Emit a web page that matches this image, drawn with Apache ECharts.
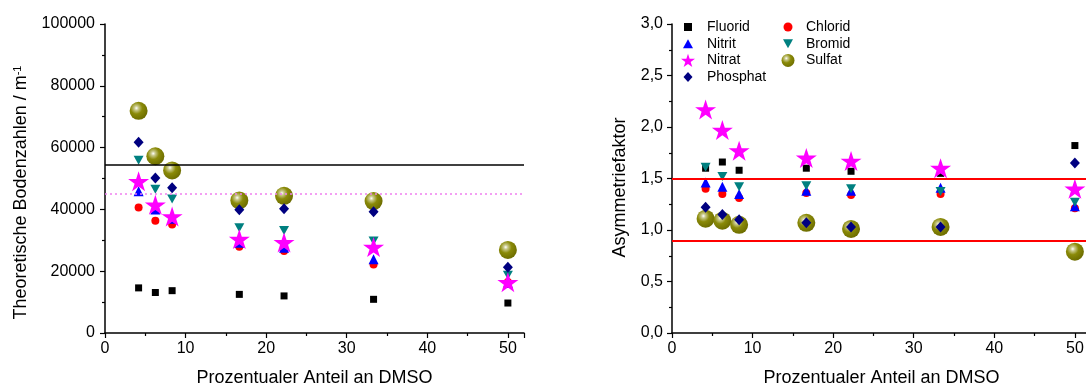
<!DOCTYPE html>
<html>
<head>
<meta charset="utf-8">
<script src="https://cdn.jsdelivr.net/npm/echarts@6/dist/echarts.min.js"></script>
<style>
html,body{margin:0;padding:0;background:#fff;}
#chart{width:1086px;height:387px;}
</style>
</head>
<body>
<div id="chart"></div>
<script>
// x values: percentage DMSO
var dmso = [4.17, 6.25, 8.33, 16.67, 22.22, 33.33, 50];

// Left chart: theoretical plate numbers / m^-1
var plateFluorid  = [14600, 13100, 13700, 12500, 12000, 10900, 9700];
var plateChlorid  = [40600, 36300, 35100, 27900, 26500, 22200, 16500];
var plateNitrit   = [45900, 40000, 37000, 29200, 27600, 23900, 16200];
var plateBromid   = [55900, 46500, 43400, 34100, 33200, 29800, 18700];
var plateNitrat   = [49100, 41500, 37700, 30400, 29300, 27800, 16400];
var plateSulfat   = [71900, 57200, 52600, 42900, 44400, 42700, 26900];
var platePhosphat = [61700, 50200, 47000, 39900, 40200, 39200, 21300];
var plateRefSolid  = [54600];
var plateRefDotted = [45000];

// Right chart: asymmetry factor
var asymFluorid  = [1.60, 1.66, 1.58, 1.60, 1.57, 1.55, 1.82];
var asymChlorid  = [1.40, 1.35, 1.31, 1.36, 1.34, 1.35, 1.21];
var asymNitrit   = [1.46, 1.42, 1.35, 1.38, 1.38, 1.41, 1.23];
var asymBromid   = [1.61, 1.52, 1.42, 1.43, 1.40, 1.375, 1.27];
var asymNitrat   = [2.17, 1.97, 1.77, 1.70, 1.67, 1.60, 1.40];
var asymSulfat   = [1.11, 1.09, 1.05, 1.07, 1.01, 1.03, 0.79];
var asymPhosphat = [1.22, 1.15, 1.10, 1.07, 1.03, 1.03, 1.65];
var asymRefLines = [1.5, 0.9];

var seriesNames = ['Fluorid', 'Chlorid', 'Nitrit', 'Bromid', 'Nitrat', 'Sulfat', 'Phosphat'];
var legendCol1 = ['Fluorid', 'Nitrit', 'Nitrat', 'Phosphat'];
var legendCol2 = ['Chlorid', 'Bromid', 'Sulfat'];

var STAR = 'path://M50,0 L61.23,34.55 L97.55,34.55 L68.17,55.9 L79.39,90.45 L50,69.1 L20.61,90.45 L31.83,55.9 L2.45,34.55 L38.77,34.55 Z';
var DOWN = 'path://M0,0 L10,0 L5,9 Z';

// legend icons (with invisible 14x14 frame so the drawn shapes keep their relative sizes)
var legendIcons = {
  Fluorid:  'path://M0,0 M14,14 M3,3 L11,3 L11,11 L3,11 Z',
  Chlorid:  'path://M0,0 M14,14 M2.5,7 A4.5,4.5 0 1,0 11.5,7 A4.5,4.5 0 1,0 2.5,7 Z',
  Nitrit:   'path://M0,0 M14,14 M7,2.5 L12,11.5 L2,11.5 Z',
  Bromid:   'path://M0,0 M14,14 M2,2.5 L12,2.5 L7,11.5 Z',
  Nitrat:   STAR,
  Sulfat:   'path://M0,0 M14,14 M0.5,7 A6.5,6.5 0 1,0 13.5,7 A6.5,6.5 0 1,0 0.5,7 Z',
  Phosphat: 'path://M0,0 M14,14 M7,2 L11.5,7 L7,12 L2.5,7 Z'
};

var sphere = {
  type: 'radial', x: 0.38, y: 0.35, r: 0.65,
  colorStops: [
    {offset: 0, color: '#ffffff'},
    {offset: 0.18, color: '#c9c98a'},
    {offset: 0.5, color: '#8a8a08'},
    {offset: 1, color: '#6e6e00'}
  ]
};

var styles = {
  Fluorid:  {symbol: 'rect', size: 7, color: '#000000'},
  Chlorid:  {symbol: 'circle', size: 8, color: '#ff0000'},
  Nitrit:   {symbol: 'triangle', size: 10, color: '#0000ff'},
  Bromid:   {symbol: DOWN, size: [10, 9], color: '#008080'},
  Nitrat:   {symbol: STAR, size: [21, 20], color: '#ff00ff'},
  Sulfat:   {symbol: 'circle', size: 18, color: sphere},
  Phosphat: {symbol: 'diamond', size: [10, 11], color: '#000080'}
};

var leftData = {Fluorid: plateFluorid, Chlorid: plateChlorid, Nitrit: plateNitrit, Bromid: plateBromid, Nitrat: plateNitrat, Sulfat: plateSulfat, Phosphat: platePhosphat};
var rightData = {Fluorid: asymFluorid, Chlorid: asymChlorid, Nitrit: asymNitrit, Bromid: asymBromid, Nitrat: asymNitrat, Sulfat: asymSulfat, Phosphat: asymPhosphat};

var FONT = '"Liberation Sans", Arial, sans-serif';

function pairs(vals) { return dmso.map(function (x, i) { return [x, vals[i]]; }); }

var series = [];
seriesNames.forEach(function (n, k) {
  var st = styles[n];
  var s1 = {
    name: n, type: 'scatter', xAxisIndex: 0, yAxisIndex: 0,
    symbol: st.symbol, symbolSize: st.size,
    itemStyle: {color: st.color, opacity: 1},
    data: pairs(leftData[n]), z: 3 + k * 0.01, silent: true
  };
  var s2 = {
    name: n, type: 'scatter', xAxisIndex: 1, yAxisIndex: 1,
    symbol: st.symbol, symbolSize: st.size,
    itemStyle: {color: st.color, opacity: 1},
    data: pairs(rightData[n]), z: 3 + k * 0.01, silent: true
  };
  if (k === 0) {
    s1.markLine = {
      silent: true, symbol: ['none', 'none'], label: {show: false}, animation: false,
      data: [
        {yAxis: plateRefSolid[0], lineStyle: {color: '#000000', width: 1.6, type: 'solid'}},
        {yAxis: plateRefDotted[0], lineStyle: {color: '#f080f0', width: 1.5, type: [2, 3]}}
      ]
    };
    s2.markLine = {
      silent: true, symbol: ['none', 'none'], label: {show: false}, animation: false,
      data: asymRefLines.map(function (v) { return {yAxis: v, lineStyle: {color: '#ff0000', width: 2, type: 'solid'}}; })
    };
  }
  series.push(s1, s2);
});

function xAxisDef(idx) {
  return {
    type: 'value', gridIndex: idx, min: 0, max: 52, interval: 10,
    name: 'Prozentualer Anteil an DMSO', nameLocation: 'middle', nameGap: 36,
    nameTextStyle: {fontFamily: FONT, fontSize: 18, color: '#000'},
    axisLine: {show: true, onZero: false, lineStyle: {color: '#000', width: 1.5}},
    axisTick: {show: true, length: 5, lineStyle: {color: '#000', width: 1.2}},
    minorTick: {show: true, splitNumber: 2, length: 3, lineStyle: {color: '#000', width: 1.2}},
    splitLine: {show: false},
    axisLabel: {fontFamily: FONT, fontSize: 16, color: '#000', margin: 8, showMaxLabel: false,
      formatter: function (v) { return v > 50 ? '' : String(v); }}
  };
}

function legendIconData(names) {
  return names.map(function (n) { return {name: n, icon: legendIcons[n]}; });
}

var option = {
  animation: false,
  backgroundColor: '#ffffff',
  grid: [
    {left: 105, top: 24, width: 419, height: 309, containLabel: false, outerBoundsMode: 'none'},
    {left: 672, top: 24, width: 419, height: 309, containLabel: false, outerBoundsMode: 'none'}
  ],
  xAxis: [xAxisDef(0), xAxisDef(1)],
  yAxis: [
    {
      type: 'value', gridIndex: 0, min: 0, max: 100000, interval: 20000,
      name: 'Theoretische Bodenzahlen / m{sup|-1}', nameLocation: 'middle', nameGap: 74, nameRotate: 90,
      nameTextStyle: {fontFamily: FONT, fontSize: 18, color: '#000', padding: [0, 28, 0, 0],
        rich: {sup: {fontFamily: FONT, fontSize: 11, color: '#000', verticalAlign: 'top', padding: [0, 0, 8, 0]}}},
      axisLine: {show: true, onZero: false, lineStyle: {color: '#000', width: 1.5}},
      axisTick: {show: true, length: 5, lineStyle: {color: '#000', width: 1.2}},
      minorTick: {show: true, splitNumber: 2, length: 3, lineStyle: {color: '#000', width: 1.2}},
      splitLine: {show: false},
      axisLabel: {fontFamily: FONT, fontSize: 16, color: '#000', margin: 10,
        formatter: function (v) { return String(v); }}
    },
    {
      type: 'value', gridIndex: 1, min: 0, max: 3, interval: 0.5,
      name: 'Asymmetriefaktor', nameLocation: 'middle', nameGap: 43, nameRotate: 90,
      nameTextStyle: {fontFamily: FONT, fontSize: 18, color: '#000', padding: [0, 18, 0, 0]},
      axisLine: {show: true, onZero: false, lineStyle: {color: '#000', width: 1.5}},
      axisTick: {show: true, length: 5, lineStyle: {color: '#000', width: 1.2}},
      minorTick: {show: true, splitNumber: 2, length: 3, lineStyle: {color: '#000', width: 1.2}},
      splitLine: {show: false},
      axisLabel: {fontFamily: FONT, fontSize: 16, color: '#000', margin: 9,
        formatter: function (v) { return v.toFixed(1).replace('.', ','); }}
    }
  ],
  legend: [
    {
      data: legendIconData(legendCol1), orient: 'vertical', left: 681, top: 19, padding: 0,
      itemWidth: 14, itemHeight: 14, itemGap: 0.7, selectedMode: false,
      textStyle: {fontFamily: FONT, fontSize: 14, color: '#000', lineHeight: 16, padding: [0, 0, 0, 7]}
    },
    {
      data: legendIconData(legendCol2), orient: 'vertical', left: 781, top: 19, padding: 0,
      itemWidth: 14, itemHeight: 14, itemGap: 0.7, selectedMode: false,
      textStyle: {fontFamily: FONT, fontSize: 14, color: '#000', lineHeight: 16, padding: [0, 0, 0, 6]}
    }
  ],
  series: series
};

var chart = echarts.init(document.getElementById('chart'), null, {renderer: 'canvas'});
chart.setOption(option);
</script>
</body>
</html>
